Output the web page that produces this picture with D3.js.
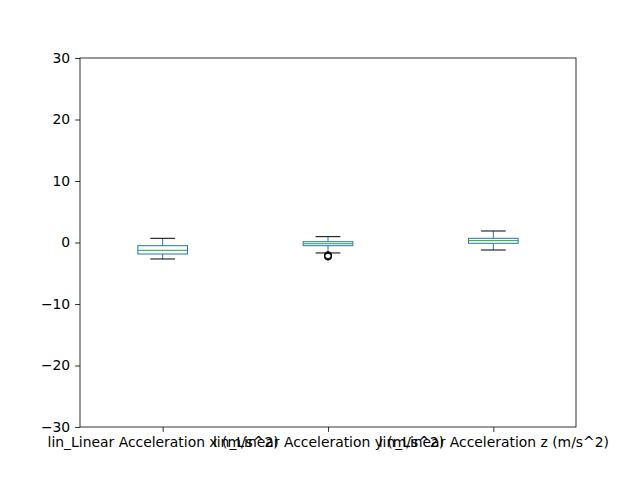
<!DOCTYPE html>
<html><head><meta charset="utf-8">
<script src="https://cdn.jsdelivr.net/npm/d3@7"></script>
<style>body{margin:0;background:#fff}svg{display:block}text{font-family:"DejaVu Sans",sans-serif}</style>
</head><body>
<script>
const categories = ["lin_Linear Acceleration x (m/s^2)", "lin_Linear Acceleration y (m/s^2)", "lin_Linear Acceleration z (m/s^2)"];
const whiskerLow = [-2.68, -1.7, -1.22];
const q1 = [-1.87, -0.52, -0.13];
const median = [-1.27, -0.2, 0.3];
const q3 = [-0.52, 0.13, 0.68];
const whiskerHigh = [0.68, 0.95, 1.87];
const outliers = [[], [-2.05, -2.2, -2.3], []];
const yTicks = [-30, -20, -10, 0, 10, 20, 30];

const W = 640, H = 480;
const m = {l: 80, r: 64, t: 58, b: 53};
const svg = d3.select("body").append("svg").attr("width", W).attr("height", H);
const x = d3.scaleLinear().domain([0.5, 3.5]).range([m.l, W - m.r]);
const y = d3.scaleLinear().domain([-30, 30]).range([H - m.b, m.t]);
const boxW = x(1.3) - x(1);
const capW = boxW / 2;

const g = svg.append("g");
categories.forEach((c, i) => {
  const cx = x(i + 1);
  g.append("line").attr("x1", cx).attr("x2", cx).attr("y1", y(q3[i])).attr("y2", y(whiskerHigh[i])).attr("stroke", "#1f77b4").attr("stroke-width", 1);
  g.append("line").attr("x1", cx).attr("x2", cx).attr("y1", y(q1[i])).attr("y2", y(whiskerLow[i])).attr("stroke", "#1f77b4").attr("stroke-width", 1);
  g.append("line").attr("x1", cx - capW / 2).attr("x2", cx + capW / 2).attr("y1", y(whiskerHigh[i])).attr("y2", y(whiskerHigh[i])).attr("stroke", "#000").attr("stroke-width", 1);
  g.append("line").attr("x1", cx - capW / 2).attr("x2", cx + capW / 2).attr("y1", y(whiskerLow[i])).attr("y2", y(whiskerLow[i])).attr("stroke", "#000").attr("stroke-width", 1);
  g.append("rect").attr("x", cx - boxW / 2).attr("width", boxW).attr("y", y(q3[i])).attr("height", y(q1[i]) - y(q3[i])).attr("fill", "none").attr("stroke", "#1f77b4").attr("stroke-width", 1);
  g.append("line").attr("x1", cx - boxW / 2).attr("x2", cx + boxW / 2).attr("y1", y(median[i])).attr("y2", y(median[i])).attr("stroke", "#2ca02c").attr("stroke-width", 1);
  outliers[i].forEach(v => {
    g.append("circle").attr("cx", cx).attr("cy", y(v)).attr("r", 3.5).attr("fill", "none").attr("stroke", "#000").attr("stroke-width", 1);
  });
});

const yAxis = svg.append("g").attr("transform", `translate(${m.l},0)`)
  .call(d3.axisLeft(y).tickValues(yTicks).tickSize(4.9).tickPadding(4.9).tickFormat(d => d < 0 ? "\u2212" + Math.abs(d) : d));
const xAxis = svg.append("g").attr("transform", `translate(0,${H - m.b})`)
  .call(d3.axisBottom(x).tickValues([1, 2, 3]).tickSize(4.9).tickPadding(4.9).tickFormat((d, i) => categories[i]));
[yAxis, xAxis].forEach(a => {
  a.select(".domain").remove();
  a.selectAll("text").attr("font-size", "13.9px").attr("fill", "#000").attr("font-family", "DejaVu Sans");
  a.selectAll("line").attr("stroke", "#000").attr("stroke-width", 0.8);
});
svg.append("rect").attr("x", m.l).attr("y", m.t).attr("width", W - m.r - m.l).attr("height", H - m.b - m.t)
  .attr("fill", "none").attr("stroke", "#000").attr("stroke-width", 0.8);
</script>
</body></html>
